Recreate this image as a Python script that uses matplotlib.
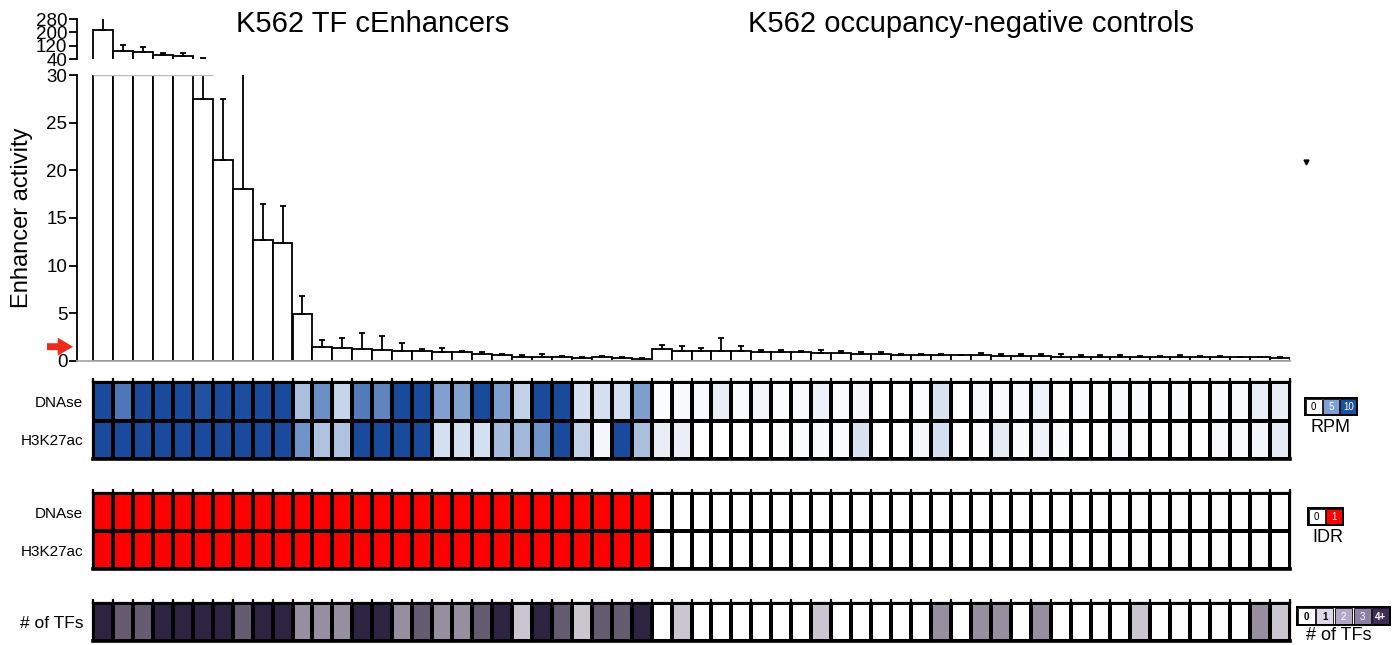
import numpy as np
import matplotlib
matplotlib.use("Agg")
import matplotlib.pyplot as plt
from matplotlib.colors import LinearSegmentedColormap, ListedColormap
from matplotlib.patches import Rectangle

plt.rcParams['font.family'] = ['Liberation Sans', 'DejaVu Sans']

# ---- data -------------------------------------------------------------
group_titles = ["K562 TF cEnhancers", "K562 occupancy-negative controls"]
n_enh = 28
n_ctl = 32

activity = [215, 88, 80, 64, 58, 27.5, 21.1, 18.0, 12.7, 12.35, 4.9, 1.5, 1.33, 1.3,
            1.16, 1.05, 1.0, 0.98, 0.98, 0.77, 0.63, 0.4, 0.4, 0.4, 0.35, 0.38, 0.28, 0.17,
            1.22, 1.05, 1.05, 1.05, 1.05, 0.98, 0.92, 0.95, 0.88, 0.85, 0.78, 0.78, 0.64,
            0.58, 0.58, 0.58, 0.58, 0.54, 0.51, 0.51, 0.47, 0.47, 0.47, 0.44, 0.44, 0.41,
            0.41, 0.41, 0.37, 0.37, 0.37, 0.34]
activity_err = [80, 36, 34, 14, 16, 16.5, 6.4, 20, 3.8, 3.95, 1.9, 0.73, 1.1, 1.65,
                1.45, 0.8, 0.22, 0.42, 0.12, 0.21, 0.07, 0.22, 0.3, 0.17, 0.1, 0.1, 0.1, 0.13,
                0.41, 0.51, 0.27, 1.32, 0.51, 0.17, 0.23, 0.1, 0.27, 0.17, 0.17, 0.17, 0.14,
                0.13, 0.13, 0.06, 0.23, 0.21, 0.24, 0.24, 0.28, 0.14, 0.14, 0.2, 0.1, 0.1,
                0.2, 0.1, 0.14, 0.07, 0.07, 0.07]

dnase_rpm = [10, 6.9, 10, 10, 10, 9.5, 10, 9.8, 10, 10, 3.0, 5.2, 2.0, 6.6, 6.0, 10, 10,
             4.4, 4.3, 10, 4.5, 2.1, 10, 10, 1.5, 1.5, 1.5, 4.5,
             0.17, 0.3, 0.28, 0.8, 0.25, 0.5, 0.17, 0.28, 0.66, 0.2, 0.38, 0, 0, 0.17,
             1.35, 0, 0.35, 0.3, 0.28, 0.6, 0.1, 0.2, 0.1, 0.3, 0.2, 0.1, 0.2, 0.1, 0.2,
             0.3, 0.8, 0.8]
h3k27ac_rpm = [10, 10, 10, 10, 10, 10, 10, 10, 10, 10, 5.0, 2.8, 2.8, 10, 10, 10, 10,
               1.5, 1.5, 1.5, 3.1, 3.3, 5.0, 10, 2.1, 0.42, 10, 3.0,
               0.8, 0.75, 0, 0, 0, 0, 0.1, 0.2, 0.28, 0.2, 1.35, 0, 0, 0.38, 1.5, 0,
               0.15, 0.95, 0.2, 0.55, 0.2, 0, 0, 0.28, 0, 0, 0, 0, 0.28, 0.28, 0.5, 0.95]

dnase_idr = [1] * n_enh + [0] * n_ctl
h3k27ac_idr = [1] * n_enh + [0] * n_ctl

tf_counts = [4, 3, 3, 4, 4, 4, 4, 3, 4, 4, 2, 2, 2, 4, 4, 2, 3, 2, 2, 3, 4, 1, 4, 3, 1, 3, 3, 4,
             0, 1, 0, 0, 0, 0, 0, 0, 1, 0, 0, 0, 0, 0, 2, 0, 2, 2, 0, 2, 0, 0, 0, 0, 1, 0,
             0, 0, 0, 0, 2, 1]

row_labels = ["DNAse", "H3K27ac"]
rpm_ticks = ["0", "5", "10"]
idr_ticks = ["0", "1"]
tf_ticks = ["0", "1", "2", "3", "4+"]

# stray cap mark at the right of the bar panel
stray_x, stray_y = 60.8, 20.9

# ---- layout helpers ---------------------------------------------------
W, H = 1397, 645
fig = plt.figure(figsize=(W / 100, H / 100), dpi=100)


def box(left, top, right, bottom):
    return [left / W, 1 - bottom / H, (right - left) / W, (bottom - top) / H]


n = len(activity)
x = np.arange(n)
vals = np.array(activity)
errs = np.array(activity_err)
unit = (1290 - 93) / n
xlo = -(93 - 77) / unit

ax_top = fig.add_axes(box(77, 19, 1290, 59))
ax_low = fig.add_axes(box(77, 75, 1290, 361))

for ax, lo in ((ax_top, 40), (ax_low, 0)):
    ax.bar(x, vals, width=1, align='edge', facecolor='white', edgecolor='black',
           linewidth=1.3, zorder=2)
    # only error bars that reach into this panel
    show = vals + errs > lo
    ax.errorbar(x[show] + 0.5, vals[show], yerr=[np.zeros(show.sum()), errs[show]],
                fmt='none', ecolor='black', elinewidth=1.3, capsize=2.5, capthick=1.3,
                zorder=3)
    ax.set_xlim(xlo, n)
    ax.set_xticks([])
    for s in ('top', 'right'):
        ax.spines[s].set_visible(False)
    ax.spines['left'].set_linewidth(1.3)
    ax.tick_params(axis='y', direction='out', length=6, width=1.3, labelsize=13.5, pad=1)

ax_top.set_ylim(40, 280)
ax_top.set_yticks([40, 120, 200, 280])
ax_top.spines['bottom'].set_visible(False)

ax_low.set_ylim(0, 30)
ax_low.set_yticks([0, 5, 10, 15, 20, 25, 30])
ax_low.spines['bottom'].set_color('#aaaaaa')
ax_low.spines['bottom'].set_linewidth(1.3)
ax_low.hlines(30, 0, 6, color='#bbbbbb', lw=1, zorder=4)
ax_low.set_ylabel("Enhancer activity", fontsize=17)
ax_low.yaxis.set_label_coords(-0.036, 0.5)

# red arrow marking the activity threshold
ax_low.annotate('', xy=(-0.001, 1.5), xytext=(-0.027, 1.5),
                xycoords=ax_low.get_yaxis_transform(),
                textcoords=ax_low.get_yaxis_transform(),
                arrowprops=dict(arrowstyle='simple,head_width=1.3,head_length=1.1,tail_width=0.5',
                                color='#ee2a1b', lw=0),
                annotation_clip=False)

ax_low.plot([stray_x], [stray_y], marker='v', ms=3.5, color='black', clip_on=False)

fig.text(93 / W + n_enh / 2 * unit / W, 1 - 24 / H, group_titles[0], fontsize=21,
         ha='center', va='center')
fig.text(93 / W + (n_enh + n_ctl / 2) * unit / W, 1 - 24 / H, group_titles[1], fontsize=21,
         ha='center', va='center')

# ---- heatmaps ---------------------------------------------------------
rpm_cmap = LinearSegmentedColormap.from_list(
    'rpm', [(0, '#ffffff'), (0.5, '#7093c8'), (1, '#1a4a9c')])
idr_cmap = ListedColormap(['#ffffff', '#fe0000'])
tf_colors = ['#ffffff', '#cac6cf', '#978f9f', '#665b71', '#2e2340']
tf_cmap = ListedColormap(tf_colors)


def heat(rect, data, cmap, vmin, vmax, labels, labelsize):
    hax = fig.add_axes(rect)
    data = np.array(data, dtype=float)
    hax.pcolormesh(np.arange(n + 1), np.arange(data.shape[0] + 1), data, cmap=cmap,
                   vmin=vmin, vmax=vmax, edgecolors='black', linewidth=1.6)
    hax.set_xlim(0, n)
    hax.set_ylim(data.shape[0], 0)
    hax.set_xticks(np.arange(n + 1))
    hax.tick_params(axis='x', top=True, bottom=False, labeltop=False, labelbottom=False,
                    length=3, width=1.6, direction='out')
    hax.set_yticks(np.arange(data.shape[0]) + 0.5)
    hax.set_yticklabels(labels, fontsize=labelsize)
    hax.tick_params(axis='y', length=0, pad=7)
    for s in hax.spines.values():
        s.set_linewidth(1.6)
    hax.spines['bottom'].set_linewidth(2.6)
    return hax


heat(box(93, 382, 1290, 459), [dnase_rpm, h3k27ac_rpm], rpm_cmap, 0, 10, row_labels, 11)
heat(box(93, 493, 1290, 569), [dnase_idr, h3k27ac_idr], idr_cmap, 0, 1, row_labels, 11)
heat(box(93, 603, 1290, 641), [tf_counts], tf_cmap, -0.5, 4.5, ["# of TFs"], 12.5)


# ---- colour keys ------------------------------------------------------
def key(rect, colors, labels, text_colors, title, title_xy, bold=None):
    kax = fig.add_axes(rect)
    for i, (c, lab, tc) in enumerate(zip(colors, labels, text_colors)):
        kax.add_patch(Rectangle((i + 0.04, 0.06), 0.92, 0.88, facecolor=c,
                                edgecolor='black', lw=0.6))
        kax.text(i + 0.5, 0.47, lab, color=tc, fontsize=7, ha='center', va='center',
                 fontweight='bold' if bold and bold[i] else 'normal')
    kax.set_xlim(0, len(colors))
    kax.set_ylim(0, 1)
    kax.set_xticks([])
    kax.set_yticks([])
    for s in kax.spines.values():
        s.set_linewidth(1.4)
    fig.text(title_xy[0] / W, 1 - title_xy[1] / H, title, fontsize=13, ha='center',
             va='center')


key(box(1305, 398, 1357, 415), ['#ffffff', '#7d9fd3', '#1c4f9e'], rpm_ticks,
    ['black', 'white', 'white'], "RPM", (1330, 428))
key(box(1308, 508, 1343, 525), ['#ffffff', '#fe0000'], idr_ticks,
    ['black', 'white'], "IDR", (1328, 538))
key(box(1297, 607, 1390, 625), ['#ffffff', '#dcd8ea', '#b3a8cc', '#8c7fa6', '#3b2d55'],
    tf_ticks, ['black', 'black', 'white', 'white', 'white'], "# of TFs", (1339, 636),
    bold=[True, True, False, False, True])

fig.savefig("out.png", dpi=100, facecolor='white')
